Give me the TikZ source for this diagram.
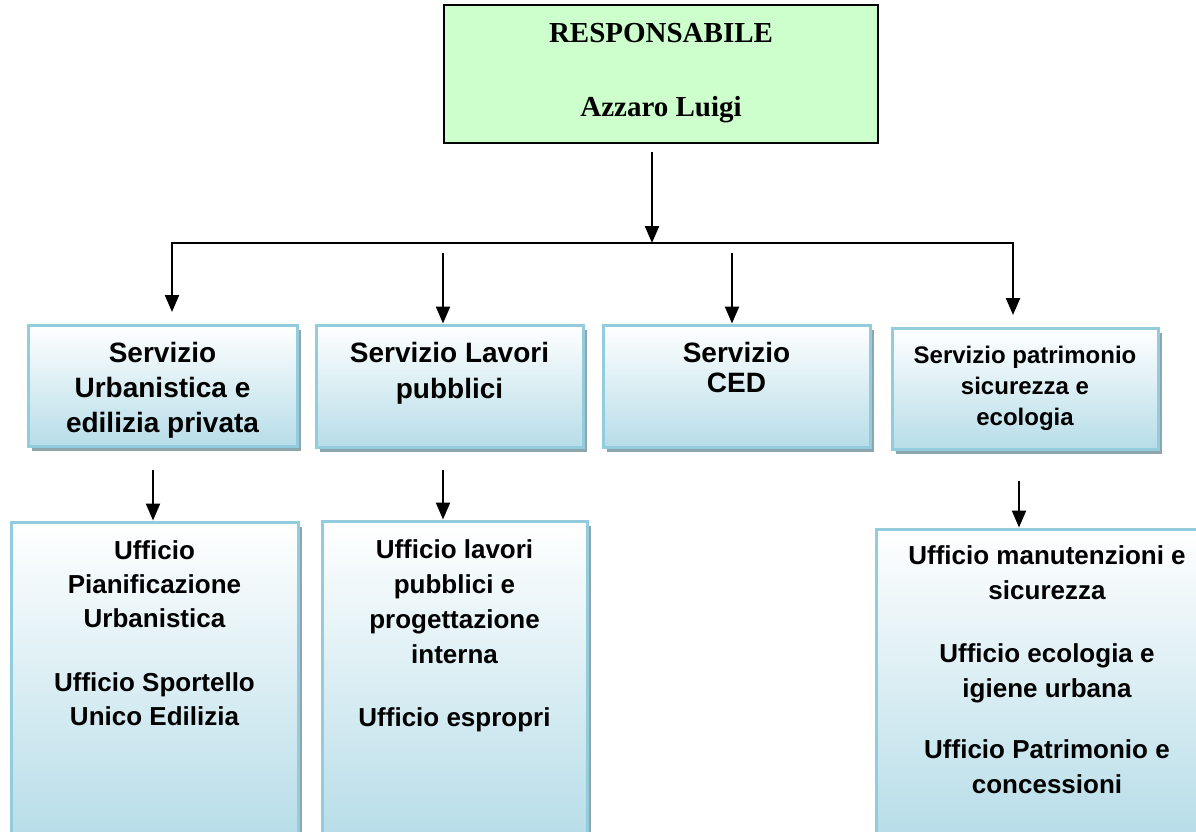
\documentclass[tikz,border=0pt]{standalone}
\usepackage{fontspec}
\setmainfont{Liberation Sans}
\newfontfamily\timesfont{Liberation Serif}
\usetikzlibrary{arrows.meta,shadows}
\definecolor{headfill}{RGB}{204,255,204}
\definecolor{unitborder}{RGB}{147,205,221}
\definecolor{unitbottom}{RGB}{183,221,232}
\definecolor{unitshadow}{RGB}{141,165,173}
\begin{document}
\begin{tikzpicture}[x=1pt,y=-1pt,
  head/.style={draw=black, line width=2pt, fill=headfill, inner sep=0pt},
  headtext/.style={font=\timesfont\bfseries\fontsize{29}{35}\selectfont, inner sep=0pt, anchor=base},
  unit/.style={draw=unitborder, line width=3pt, top color=white, bottom color=unitbottom, inner sep=0pt,
    drop shadow={shadow xshift=4pt, shadow yshift=-5pt, fill=unitshadow, opacity=1}},
  unittext/.style={inner sep=0pt, anchor=north, align=center},
  link/.style={line width=2.2pt, -{Triangle[length=17pt,width=14pt]}},
  bus/.style={line width=2.2pt, {Triangle[length=17pt,width=14pt]}-{Triangle[length=17pt,width=14pt]}},
]
\useasboundingbox (0,0) rectangle (1196,832);
\clip (0,0) rectangle (1196,832);

% head of the department
\node[head, minimum width=434pt, minimum height=138pt] (resp) at (661,74) {};
\node[headtext] (respT) at (661,43) {RESPONSABILE};
\node[headtext] (respN) at (661,117) {Azzaro Luigi};

% services
\node[unit, minimum width=269pt, minimum height=121pt] (s1) at (162.5,385.5) {};
\node[unittext, font=\bfseries\fontsize{28}{35}\selectfont] (s1t) at (162.5,337.5)
  {\strut Servizio\\Urbanistica e\\edilizia privata};

\node[unit, minimum width=267pt, minimum height=122pt] (s2) at (449.5,386) {};
\node[unittext, font=\bfseries\fontsize{28}{36}\selectfont] (s2t) at (449.5,336.8)
  {\strut Servizio Lavori\\pubblici};

\node[unit, minimum width=267pt, minimum height=122pt] (s3) at (736.5,386) {};
\node[unittext, font=\bfseries\fontsize{28}{30}\selectfont] (s3t) at (736.5,341)
  {\strut Servizio\\CED};

\node[unit, minimum width=266pt, minimum height=121pt] (s4) at (1025,388.5) {};
\node[unittext, font=\bfseries\fontsize{24}{31}\selectfont] (s4t) at (1025,341.3)
  {\strut Servizio patrimonio\\sicurezza e\\ecologia};

% offices
\node[unit, minimum width=287pt, minimum height=318pt] (u1) at (154.5,681) {};
\node[unittext, font=\bfseries\fontsize{26}{34}\selectfont] (u1t) at (154.5,535.2)
  {\strut Ufficio\\Pianificazione\\Urbanistica\\[30pt]Ufficio Sportello\\Unico Edilizia};

\node[unit, minimum width=265pt, minimum height=319pt] (u2) at (454.5,680.5) {};
\node[unittext, font=\bfseries\fontsize{26}{35}\selectfont] (u2t) at (454.5,533.5)
  {\strut Ufficio lavori\\pubblici e\\progettazione\\interna\\[28pt]Ufficio espropri};

\node[unit, minimum width=342pt, minimum height=307pt] (u3) at (1047,682.5) {};
\node[unittext, font=\bfseries\fontsize{26}{35}\selectfont] (u3t) at (1047,539.5)
  {\strut Ufficio manutenzioni e\\sicurezza\\[28pt]Ufficio ecologia e\\igiene urbana\\[26pt]Ufficio Patrimonio e\\concessioni};

% connectors
\coordinate (rOut) at (652,152);
\coordinate (busMid) at (652,243);
\coordinate (busL) at (172,243);
\coordinate (busR) at (1013,243);
\coordinate (tipL) at (172,312);
\coordinate (tipR) at (1013,315);
\draw[link] (rOut) -- (busMid);
\draw[bus] (tipL) -- (busL) -- (busR) -- (tipR);

\coordinate (f2) at (443,253);
\coordinate (f3) at (732,253);
\draw[link] (f2) -- (f2 |- s2.north);
\draw[link] (f3) -- (f3 |- s3.north);

\coordinate (g1) at (153,470);
\coordinate (g2) at (443,470);
\coordinate (g4) at (1019,481);
\draw[link] (g1) -- (g1 |- u1.north);
\draw[link] (g2) -- (g2 |- u2.north);
\draw[link] (g4) -- (g4 |- u3.north);
\end{tikzpicture}
\end{document}
